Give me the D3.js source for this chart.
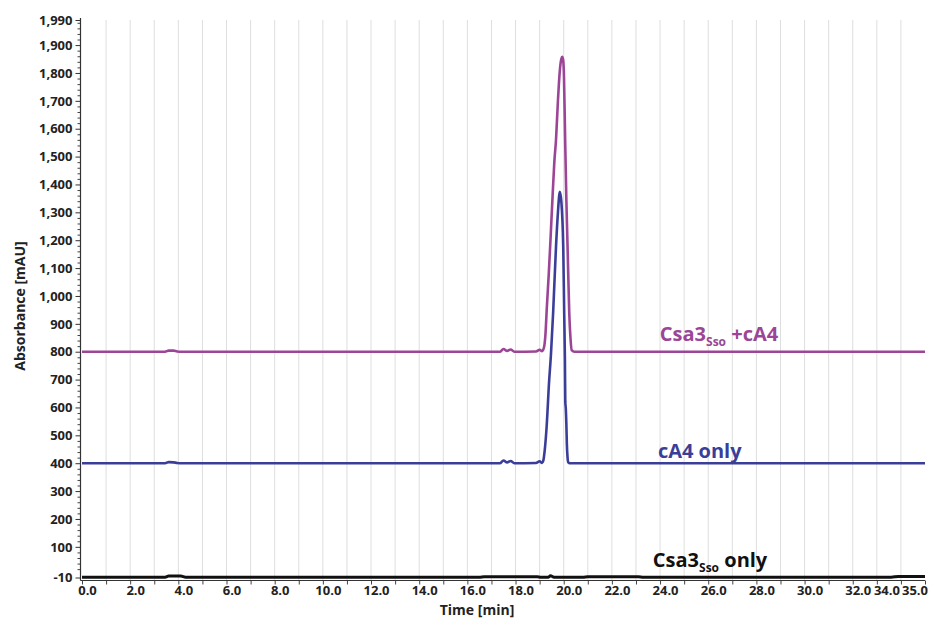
<!DOCTYPE html>
<html><head><meta charset="utf-8">
<script src="https://cdn.jsdelivr.net/npm/d3@7"></script>
<style>
body{margin:0;background:#fff}
svg text{font-family:"Open Sans",sans-serif;font-weight:700}
</style>
</head><body>
<svg id="chart" width="932" height="619"></svg>
<script>
// ---- data ----
const yTickValues = [-10,100,200,300,400,500,600,700,800,900,1000,1100,1200,1300,1400,1500,1600,1700,1800,1900,1990];
const xTickLabels = ["0.0","2.0","4.0","6.0","8.0","10.0","12.0","14.0","16.0","18.0","20.0","22.0","24.0","26.0","28.0","30.0","32.0","34.0","35.0"];
const xTickLabelValues = [0,2,4,6,8,10,12,14,16,18,20,22,24,26,28,30,32,34,35];

const csaCa4Time  = [0, 3.45, 3.6, 3.8, 3.95, 4.15, 17.35, 17.5, 17.65, 17.8, 17.95, 18.85, 19.0, 19.1, 19.18, 19.24, 19.3, 19.38, 19.45, 19.53, 19.61, 19.68, 19.76, 19.84, 19.9, 19.94, 19.98, 20.01, 20.06, 20.11, 20.16, 20.23, 20.28, 20.33, 20.45, 35];
const csaCa4Value = [800, 800, 804, 804, 801, 800, 800, 810, 803, 808, 800, 801, 807, 802, 815, 860, 960, 1080, 1200, 1344, 1480, 1560, 1700, 1810, 1850, 1858, 1845, 1790, 1560, 1344, 1177, 939, 850, 806, 800, 800];

const ca4Time  = [0, 3.45, 3.6, 3.8, 3.95, 4.15, 17.35, 17.5, 17.65, 17.8, 17.95, 18.85, 19.0, 19.1, 19.15, 19.21, 19.29, 19.39, 19.47, 19.56, 19.68, 19.76, 19.84, 19.9, 19.98, 20.02, 20.05, 20.065, 20.085, 20.11, 20.13, 20.16, 20.19, 20.25, 35];
const ca4Value = [400, 400, 404, 403, 401, 400, 400, 410, 403, 408, 400, 401, 407, 401, 408, 445, 530, 688, 790, 939, 1177, 1300, 1374, 1340, 1177, 939, 770, 620, 598, 540, 470, 420, 403, 400, 400];

const csaTime  = [0, 3.45, 3.6, 4.1, 4.3, 16.5, 16.7, 18.9, 19.05, 19.35, 19.45, 19.6, 19.75, 20.8, 21.0, 23.1, 23.3, 33.6, 33.9, 35];
const csaValue = [-9, -9, -5, -5, -9, -9, -7, -7, -9, -9, -4, -9, -9, -9, -7, -7, -9, -9, -6, -6];

// ---- layout ----
const svg = d3.select("#chart");
const X0 = 82, X1 = 925, Y0 = 20, YB = 577.5, AXY = 580.5;
const x = d3.scaleLinear().domain([0,35]).range([X0,X1]);
const y = d3.scaleLinear().domain([-10,1990]).range([YB,Y0]);

const purple = "#9c4596", blue = "#3b3e98", black = "#111";

// gridlines
svg.append("g").selectAll("line").data(d3.range(1,35)).join("line")
  .attr("x1", d=>x(d)).attr("x2", d=>x(d)).attr("y1", Y0).attr("y2", AXY)
  .attr("stroke", "#dedede").attr("stroke-width", 1);

// y axis
const yMinor = d3.range(0, 1990, 20).filter(v => v % 100 !== 0);
svg.append("g").attr("transform", `translate(${X0-1.5},0)`)
  .call(d3.axisLeft(y).tickValues(yMinor).tickSize(3).tickFormat(""))
  .call(g => g.select(".domain").remove())
  .call(g => g.selectAll("line").attr("stroke", "#444"));
const fmt = d3.format(",");
const yAx = svg.append("g").attr("transform", `translate(${X0-1.5},0)`)
  .call(d3.axisLeft(y).tickValues(yTickValues).tickSize(5).tickSizeOuter(0).tickPadding(3)
    .tickFormat(d => fmt(d).replace("\u2212", "-")))
  .call(g => g.select(".domain").remove());
yAx.selectAll("line").attr("stroke", "#333");
yAx.selectAll("text").attr("font-size", 13).attr("fill", "#222").attr("font-family", "'Open Sans',sans-serif").attr("font-weight", 700);
svg.append("line").attr("x1", X0-1.5).attr("x2", X0-1.5).attr("y1", Y0-2).attr("y2", AXY).attr("stroke", "#333").attr("stroke-width", 1.2);

// x axis
const xAx = svg.append("g").attr("transform", `translate(0,${AXY})`)
  .call(d3.axisBottom(x).tickValues(d3.range(0,36)).tickSize(4).tickSizeOuter(0).tickFormat(""))
  .call(g => g.select(".domain").remove());
xAx.selectAll("line").attr("stroke", "#444");
svg.append("line").attr("x1", X0-1.5).attr("x2", X1).attr("y1", AXY).attr("y2", AXY).attr("stroke", "#333").attr("stroke-width", 1.2);
const labelShift = {34: -14, 35: -10};
svg.append("g").selectAll("text").data(xTickLabelValues).join("text")
  .attr("x", d => x(d) + (labelShift[d] !== undefined ? labelShift[d] : 5.5))
  .attr("y", 595)
  .attr("text-anchor", "middle").attr("font-size", 13).attr("fill", "#222")
  .text((d,i) => xTickLabels[i]);

// axis titles
svg.append("text").attr("x", 477).attr("y", 615).attr("text-anchor", "middle")
  .attr("font-size", 14).attr("fill", "#222").text("Time [min]");
svg.append("text").attr("transform", "translate(25,306) rotate(-90)").attr("text-anchor", "middle")
  .attr("font-size", 14).attr("fill", "#222").text("Absorbance [mAU]");

// traces
const line = d3.line().x(d => x(d[0])).y(d => y(d[1])).curve(d3.curveMonotoneX);
function trace(ts, vs, color, w){
  svg.append("path").datum(ts.map((t,i)=>[t, vs[i]]))
    .attr("d", line).attr("fill", "none").attr("stroke", color)
    .attr("stroke-width", w).attr("stroke-linejoin", "round");
}
trace(csaTime, csaValue, black, 3);
trace(ca4Time, ca4Value, blue, 2.6);
trace(csaCa4Time, csaCa4Value, purple, 2.6);

// series labels
function label(tx, vy, color, parts){
  const t = svg.append("text").attr("x", x(tx)).attr("y", y(vy)).attr("fill", color).attr("font-size", 20);
  parts.forEach(p => {
    const s = t.append("tspan").text(p.t);
    if (p.sub) s.attr("font-size", 12).attr("dy", 5);
    if (p.up) s.attr("dy", -5);
  });
}
label(23.99, 840, purple, [{t:"Csa3"},{t:"Sso", sub:true},{t:" +cA4", up:true}]);
label(23.91, 420, blue, [{t:"cA4 only"}]);
label(23.70, 26, black, [{t:"Csa3"},{t:"Sso", sub:true},{t:" only", up:true}]);
</script>
</body></html>
